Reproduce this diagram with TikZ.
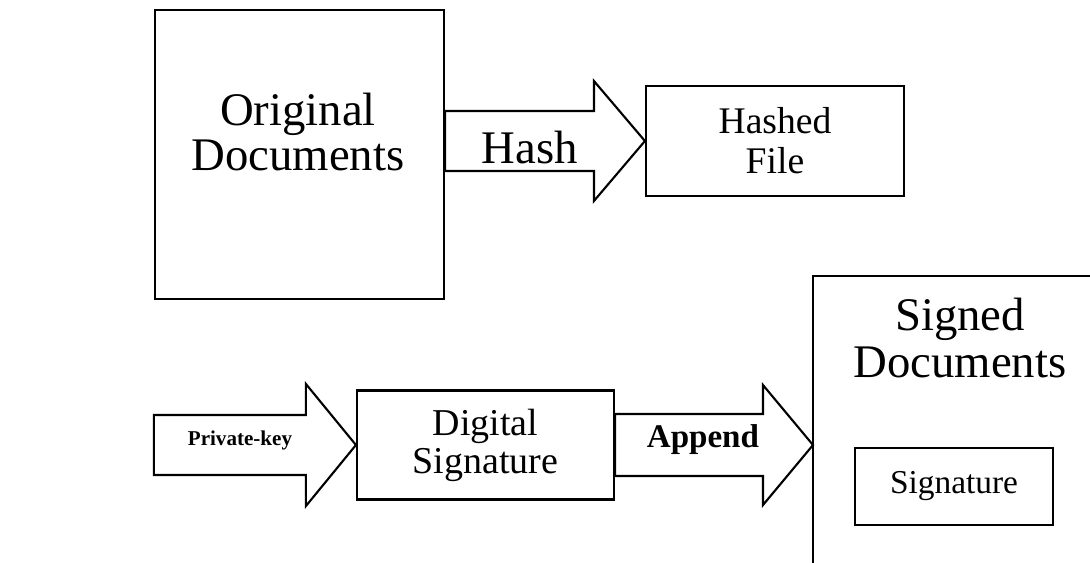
\documentclass[tikz,border=0pt]{standalone}
\usepackage{fontspec}
\setmainfont{Liberation Serif}
\usetikzlibrary{calc, positioning}

\begin{document}
\begin{tikzpicture}[
        box/.style={draw, line width=0.6pt, inner sep=0pt},
        fat/.style={draw, line width=0.6pt, fill=white, line join=miter},
        big/.style={align=center, font=\fontsize{13.3}{12.8}\selectfont}
    ]
        \useasboundingbox (0,0) rectangle (10.9,5.62);

        % Original documents and hashed file
        \node[box, minimum width=2.89cm, minimum height=2.89cm] (orig) at (2.995,4.075) {};
        \node[big] (origtxt) at (2.98,4.30) {Original\\Documents};
        \node[box, minimum width=2.58cm, minimum height=1.10cm, align=center,
            font=\fontsize{10.7}{11.4}\selectfont] (hashed) at (7.75,4.21) {Hashed\\File};

        % Hash arrow
        \coordinate (hashtail) at (orig.east |- hashed.west);
        \draw[fat] ($(hashtail)+(0,0.3)$) -- ($(hashed.west)+(-0.51,0.3)$) -- ++(0,0.3)
            -- (hashed.west) -- ++(-0.51,-0.6) -- ++(0,0.3) -- ($(hashtail)+(0,-0.3)$) -- cycle;
        \node[big] (hashlbl) at (5.30,4.14) {Hash};

        % Digital signature and signed documents
        \node[box, minimum width=2.57cm, minimum height=1.09cm, align=center,
            font=\fontsize{10.8}{10.8}\selectfont] (digsig) at (4.855,1.17) {Digital\\Signature};
        \node[minimum width=2.9cm, minimum height=3.0cm, anchor=north west, inner sep=0pt] (signed) at (8.13,2.86) {};
        \draw[line width=0.6pt] (signed.south west) -- (signed.north west) -- (signed.north east);
        \node[big, font=\fontsize{13.3}{13.4}\selectfont] (signedtxt) at (9.60,2.24) {Signed\\Documents};
        \node[box, minimum width=1.98cm, minimum height=0.77cm,
            font=\fontsize{9.5}{11}\selectfont] (sigbox) at (9.54,0.755) {Signature};

        % Private-key arrow
        \path (digsig.west) ++(-2.02,0) coordinate (keytail);
        \draw[fat] ($(keytail)+(0,0.3)$) -- ($(digsig.west)+(-0.50,0.3)$) -- ++(0,0.31)
            -- (digsig.west) -- ++(-0.50,-0.61) -- ++(0,0.31) -- ($(keytail)+(0,-0.3)$) -- cycle;
        \node[font=\bfseries\fontsize{6}{7}\selectfont] (keylbl) at (2.40,1.22) {Private-key};

        % Append arrow
        \coordinate (apptail) at (digsig.east);
        \coordinate (apptip) at (signed.west |- digsig.east);
        \draw[fat] ($(apptail)+(0,0.31)$) -- ($(apptip)+(-0.50,0.31)$) -- ++(0,0.29)
            -- (apptip) -- ++(-0.50,-0.60) -- ++(0,0.29) -- ($(apptail)+(0,-0.31)$) -- cycle;
        \node[font=\bfseries\fontsize{9.4}{11}\selectfont] (applbl) at (7.03,1.22) {Append};
    \end{tikzpicture}
\end{document}
